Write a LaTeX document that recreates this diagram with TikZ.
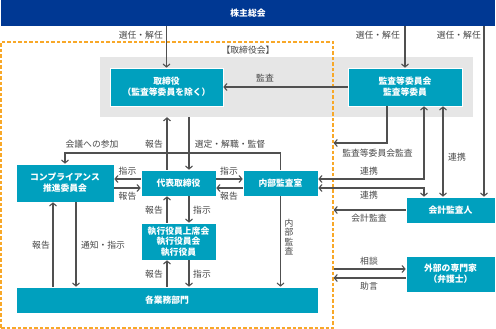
\documentclass[tikz,border=0pt]{standalone}
\usepackage{fontspec}
\setmainfont{Noto Sans CJK JP}
\usetikzlibrary{arrows.meta,calc}
\definecolor{navy}{RGB}{0,56,147}
\definecolor{teal2}{RGB}{0,160,190}
\definecolor{lgray}{RGB}{230,230,230}
\definecolor{orng}{RGB}{248,168,40}
\definecolor{lnc}{RGB}{80,80,80}
\definecolor{txc}{RGB}{70,70,70}
\begin{document}
\begin{tikzpicture}[x=1pt,y=-1pt,
 box/.style={fill=teal2, draw=white, line width=0.6pt, text=white, font=\fontsize{8.8}{11}\selectfont\bfseries, align=center, inner sep=0pt},
 lbl/.style={text=txc, font=\fontsize{8.8}{10}\selectfont, inner sep=0pt},
 tipA/.tip={Straight Barb[length=3pt,width=7pt]},
 arr/.style={draw=lnc, line width=1.1pt, -tipA},
 dbl/.style={draw=lnc, line width=1.1pt, tipA-tipA},
 ln/.style={draw=lnc, line width=1.1pt}]
\useasboundingbox (0,0) rectangle (496,329);
% backgrounds
\node[fill=lgray, minimum width=373pt, minimum height=60pt, inner sep=0pt] (gray) at (286.5,87) {};
\node[draw=orng, dash pattern=on 3.5pt off 2pt, line width=1.2pt, minimum width=332pt, minimum height=286pt, inner sep=0pt] (frame) at (167,185) {};
\node[fill=navy, text=white, font=\fontsize{8.8}{10}\selectfont\bfseries, minimum width=494pt, minimum height=26pt, inner sep=0pt] (top) at (248,13) {株主総会};
% boxes
\node[box, minimum width=113pt, minimum height=38pt] (tori) at (166.5,87) {取締役\\（監査等委員を除く）};
\node[box, minimum width=114pt, minimum height=38pt] (kansa) at (405,87) {監査等委員会\\監査等委員};
\node[box, minimum width=98pt, minimum height=38pt] (comp) at (65,183) {コンプライアンス\\推進委員会};
\node[box, minimum width=75pt, minimum height=26pt] (daihyo) at (178.5,183) {代表取締役};
\node[box, minimum width=75pt, minimum height=26pt] (naibu) at (280.5,183) {内部監査室};
\node[box, minimum width=75pt, minimum height=37pt, font=\fontsize{8.8}{10.5}\selectfont\bfseries] (shikko) at (178.5,241.5) {執行役員上席会\\執行役員会\\執行役員};
\node[box, minimum width=302pt, minimum height=26pt] (gyomu) at (167,300) {各業務部門};
\node[box, minimum width=89pt, minimum height=26pt] (kaikei) at (450.5,210) {会計監査人};
\node[box, minimum width=89pt, minimum height=36pt] (gaibu) at (450.5,274) {外部の専門家\\（弁護士）};
% helper coordinates
\coordinate (xA) at (167,0);
\coordinate (xB) at (189,0);
\coordinate (xC) at (53,0);
\coordinate (xD) at (76,0);
\coordinate (xK) at (387,0);
\coordinate (xF) at (424,0);
\coordinate (xG) at (443,0);
\coordinate (xR) at (484,0);
\coordinate (yM) at (0,153);
\coordinate (y1) at (0,179);
\coordinate (y2) at (0,188);
\coordinate (yK) at (0,143);
\coordinate (yS) at (0,269);
\coordinate (yJ) at (0,278);
% connectors from top
\draw[arr] (top.south -| tori.north) -- (tori.north);
\draw[arr] (top.south -| kansa.north) -- (kansa.north);
\draw[arr] (top.south -| xR) -- (kaikei.north -| xR);
% audit
\draw[arr] (kansa.west) -- (tori.east);
\draw[arr] (daihyo.north -| xA) -- (gray.south -| xA);
\draw[arr] (gray.south -| xB) -- (daihyo.north -| xB);
\draw[arr] (naibu.north) -- (naibu.north |- yM) -- (comp.north |- yM) -- (comp.north);
% daihyo side arrows
\draw[arr] (daihyo.west |- y1) -- (comp.east |- y1);
\draw[arr] (comp.east |- y2) -- (daihyo.west |- y2);
\draw[arr] (daihyo.east |- y1) -- (naibu.west |- y1);
\draw[arr] (naibu.west |- y2) -- (daihyo.east |- y2);
% vertical chain
\draw[arr] (shikko.north -| xA) -- (daihyo.south -| xA);
\draw[arr] (daihyo.south -| xB) -- (shikko.north -| xB);
\draw[arr] (gyomu.north -| xA) -- (shikko.south -| xA);
\draw[arr] (shikko.south -| xB) -- (gyomu.north -| xB);
\draw[arr] (gyomu.north -| xC) -- (comp.south -| xC);
\draw[arr] (comp.south -| xD) -- (gyomu.north -| xD);
\draw[arr] (naibu.south) -- (gyomu.north -| naibu.south);
% right side
\draw[arr] (kansa.south -| xK) -- (xK |- yK) -- (frame.east |- yK);
\draw[dbl] (naibu.east |- y1) -- (xF |- y1) -- (kansa.south -| xF);
\draw[dbl] (naibu.east |- y2) -- (xF |- y2) -- (kaikei.north -| xF);
\draw[dbl] (kansa.south -| xG) -- (kaikei.north -| xG);
\draw[arr] (kaikei.west) -- (frame.east |- kaikei.west);
\draw[arr] (frame.east |- yS) -- (gaibu.west |- yS);
\draw[arr] (gaibu.west |- yJ) -- (frame.east |- yJ);
% labels
\node[lbl, anchor=east] (s1) at (163,35) {選任・解任};
\node[lbl, anchor=east] (s2) at (400,35) {選任・解任};
\node[lbl, anchor=east] (s3) at (481,35) {選任・解任};
\node[lbl] (tkai) at (248,50) {【取締役会】};
\node[lbl] (lkansa) at (265,78) {監査};
\node[lbl] (lkaigi) at (92,144) {会議への参加};
\node[lbl] (lhk1) at (154,144) {報告};
\node[lbl] (lsentei) at (230,144) {選定・解職・監督};
\node[lbl] (lsj1) at (127.5,171) {指示};
\node[lbl] (lhk2) at (127.5,196) {報告};
\node[lbl] (lsj2) at (229,171) {指示};
\node[lbl] (lhk3) at (229,196) {報告};
\node[lbl] (lhk4) at (154,210) {報告};
\node[lbl] (lsj3) at (202,210) {指示};
\node[lbl] (lhk5) at (154,274) {報告};
\node[lbl] (lsj4) at (202,274) {指示};
\node[lbl] (lhk6) at (41,245) {報告};
\node[lbl] (ltsuchi) at (103,245) {通知・指示};
\node[lbl, align=center, font=\fontsize{8.8}{9.4}\selectfont] (lnaibu) at (289,237) {内\\部\\監\\査};
\node[lbl] (lkiaudit) at (377.5,153) {監査等委員会監査};
\node[lbl] (lrk1) at (369,171) {連携};
\node[lbl] (lrk2) at (369,195) {連携};
\node[lbl] (lrk3) at (457,157) {連携};
\node[lbl] (lkaikei) at (369,218) {会計監査};
\node[lbl] (lsodan) at (369,261) {相談};
\node[lbl] (ljogen) at (369,286) {助言};
\end{tikzpicture}
\end{document}
